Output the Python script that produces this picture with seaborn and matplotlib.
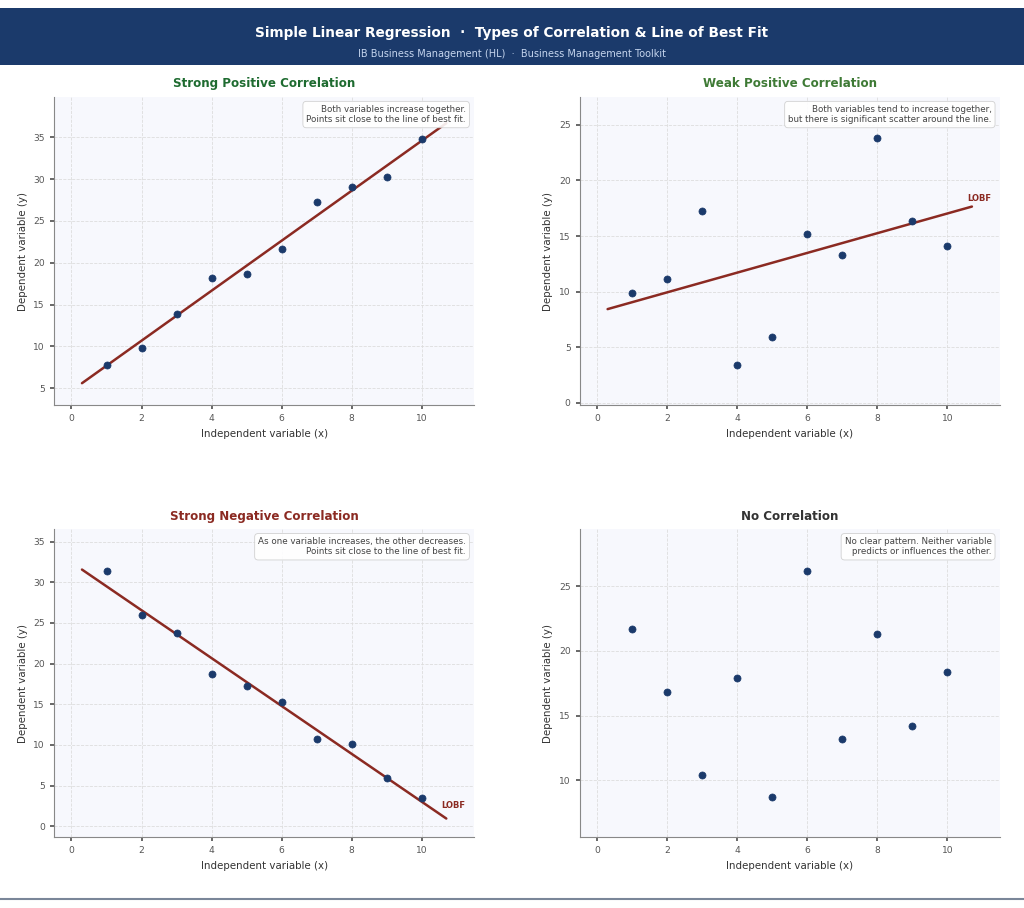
import numpy as np
import pandas as pd
import matplotlib.pyplot as plt
import seaborn as sns
from matplotlib.patches import Rectangle
from matplotlib.lines import Line2D

sns.set_theme(style="whitegrid")
plt.rcParams['font.family'] = ['DejaVu Sans']

NAVY = '#1b3a6b'
RED = '#8b2a22'

x_vals = list(range(1, 11))
strong_pos = [7.75, 9.8, 13.9, 18.2, 18.7, 21.6, 27.3, 29.1, 30.3, 34.8]
weak_pos = [9.9, 11.1, 17.3, 3.4, 5.9, 15.2, 13.3, 23.8, 16.4, 14.1]
strong_neg = [31.4, 26.0, 23.7, 18.7, 17.2, 15.3, 10.7, 10.1, 5.9, 3.5]
no_corr = [21.7, 16.8, 10.4, 17.9, 8.7, 26.2, 13.2, 21.3, 14.2, 18.4]

titles = ['Strong Positive Correlation', 'Weak Positive Correlation',
          'Strong Negative Correlation', 'No Correlation']
title_colors = ['#1e6b30', '#3e7a35', '#8b2a22', '#333333']
notes = ['Both variables increase together.\nPoints sit close to the line of best fit.',
         'Both variables tend to increase together,\nbut there is significant scatter around the line.',
         'As one variable increases, the other decreases.\nPoints sit close to the line of best fit.',
         'No clear pattern. Neither variable\npredicts or influences the other.']
series = [strong_pos, weak_pos, strong_neg, no_corr]
show_line = [True, True, True, False]
ylims = [(3.0, 39.8), (-0.2, 27.5), (-1.35, 36.5), (5.6, 29.4)]
lobf_pos = [None, (11.25, 18.4), (11.25, 2.6), None]

fig = plt.figure(figsize=(10.24, 9.08), dpi=100)

# header band
fig.patches.append(Rectangle((0, 0.928), 1, 0.063, transform=fig.transFigure,
                             facecolor=NAVY, edgecolor='none', zorder=0))
fig.text(0.5, 0.964, 'Simple Linear Regression  ·  Types of Correlation & Line of Best Fit',
         ha='center', va='center', color='white', fontsize=9.8, fontweight='bold')
fig.text(0.5, 0.940, 'IB Business Management (HL)  ·  Business Management Toolkit',
         ha='center', va='center', color='#c5d5ee', fontsize=7)
fig.lines.append(Line2D([0, 1], [0.01, 0.01], transform=fig.transFigure,
                        color='#7a8699', lw=1.5))

positions = [[0.0527, 0.554, 0.4105, 0.339], [0.566, 0.554, 0.4105, 0.339],
             [0.0527, 0.078, 0.4105, 0.339], [0.566, 0.078, 0.4105, 0.339]]

for i in range(4):
    ax = fig.add_axes(positions[i])
    ax.set_facecolor('#f7f8fd')
    df = pd.DataFrame({'x': x_vals, 'y': series[i]})
    if show_line[i]:
        slope, intercept = np.polyfit(df['x'], df['y'], 1)
        xs = np.array([0.3, 10.7])
        line_df = pd.DataFrame({'x': xs, 'y': intercept + slope * xs})
        sns.lineplot(data=line_df, x='x', y='y', ax=ax, color=RED, lw=1.8, zorder=2)
    sns.scatterplot(data=df, x='x', y='y', ax=ax, color=NAVY, s=26,
                    edgecolor=NAVY, linewidth=0.5, zorder=3)
    if lobf_pos[i] is not None:
        ax.text(lobf_pos[i][0], lobf_pos[i][1], 'LOBF', ha='right', va='center',
                color=RED, fontsize=6, fontweight='bold')
    ax.set_xlim(-0.5, 11.5)
    ax.set_ylim(*ylims[i])
    ax.set_xticks([0, 2, 4, 6, 8, 10])
    ax.set_title(titles[i], color=title_colors[i], fontsize=8.6, fontweight='bold', pad=7)
    ax.set_xlabel('Independent variable (x)', fontsize=7.4, color='#333333')
    ax.set_ylabel('Dependent variable (y)', fontsize=7.4, color='#333333')
    ax.tick_params(labelsize=6.6, colors='#555555', length=3, left=True, bottom=True)
    ax.grid(True, linestyle='--', color='#dddddd', lw=0.6)
    for s in ['top', 'right']:
        ax.spines[s].set_visible(False)
    for s in ['left', 'bottom']:
        ax.spines[s].set_color('#888888')
        ax.spines[s].set_linewidth(0.8)
    ax.text(0.98, 0.975, notes[i], transform=ax.transAxes, ha='right', va='top',
            fontsize=6.3, color='#444444', multialignment='right',
            bbox=dict(boxstyle='round,pad=0.4', facecolor='white', edgecolor='#cccccc',
                      lw=0.6, alpha=0.9))

fig.savefig('out.png', dpi=100)
